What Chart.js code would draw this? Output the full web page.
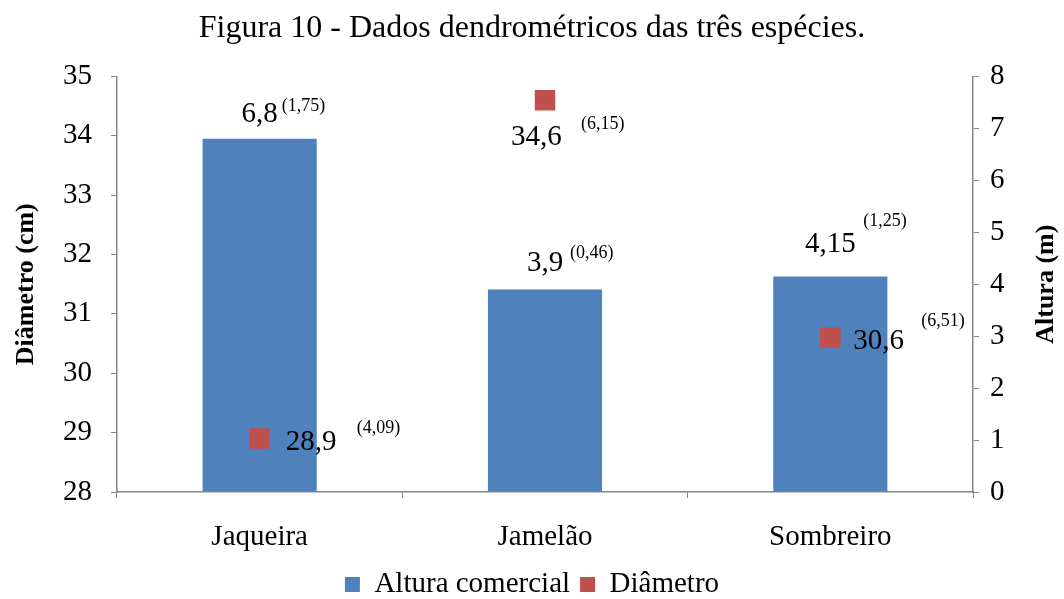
<!DOCTYPE html>
<html>
<head>
<meta charset="utf-8">
<script src="https://cdn.jsdelivr.net/npm/chart.js@4.4.1/dist/chart.umd.min.js"></script>
<style>
  html, body { margin: 0; padding: 0; background: #fff; }
  #wrap { width: 1064px; height: 599px; }
</style>
</head>
<body>
<div id="wrap"><canvas id="chart1"></canvas></div>
<script>
// data
const especies = ["Jaqueira", "Jamelão", "Sombreiro"];
const altura = [6.8, 3.9, 4.15];
const alturaDP = ["1,75", "0,46", "1,25"];
const diametro = [28.9, 34.6, 30.6];
const diametroDP = ["4,09", "6,15", "6,51"];
const ticksDiametro = [28, 29, 30, 31, 32, 33, 34, 35];
const ticksAltura = [0, 1, 2, 3, 4, 5, 6, 7, 8];

const serif = "'Liberation Serif', 'Times New Roman', serif";
const axisGray = "#868686";

// where each value label sits, relative to its bar top / marker centre
const barLabelPos = [
  { dx: 0, dy: -17, sdx: 22, sdy: -28 },
  { dx: 0, dy: -18, sdx: 25, sdy: -31 },
  { dx: 0, dy: -24, sdx: 33, sdy: -50 }
];
const pointLabelPos = [
  { dx: 26, dy: 11, sdx: 97, sdy: -6 },
  { dx: -34, dy: 45, sdx: 36, sdy: 29 },
  { dx: 23, dy: 11, sdx: 91, sdy: -12 }
];

function fmt(v) {
  return String(v).replace(".", ",");
}

// value labels with the standard deviation written small beside them
const valueLabels = {
  id: "valueLabels",
  afterDatasetsDraw(chart) {
    const ctx = chart.ctx;
    ctx.save();
    ctx.fillStyle = "#000";
    ctx.textBaseline = "alphabetic";

    const bars = chart.getDatasetMeta(0).data;
    bars.forEach((el, i) => {
      const p = barLabelPos[i];
      ctx.font = "29px " + serif;
      ctx.textAlign = "center";
      ctx.fillText(fmt(altura[i]), el.x + p.dx, el.y + p.dy);
      ctx.font = "18px " + serif;
      ctx.textAlign = "left";
      ctx.fillText("(" + alturaDP[i] + ")", el.x + p.sdx, el.y + p.sdy);
    });

    const pts = chart.getDatasetMeta(1).data;
    pts.forEach((el, i) => {
      const p = pointLabelPos[i];
      ctx.font = "29px " + serif;
      ctx.textAlign = "left";
      ctx.fillText(fmt(diametro[i]), el.x + p.dx, el.y + p.dy);
      ctx.font = "18px " + serif;
      ctx.fillText("(" + diametroDP[i] + ")", el.x + p.sdx, el.y + p.sdy);
    });

    // right axis title, reading bottom to top like the left one
    const a = chart.chartArea;
    ctx.translate(1046, (a.top + a.bottom) / 2);
    ctx.rotate(-Math.PI / 2);
    ctx.font = "bold 26px " + serif;
    ctx.textAlign = "center";
    ctx.textBaseline = "middle";
    ctx.fillText("Altura (m)", 0, 0);
    ctx.restore();
  }
};

var ctx = document.getElementById("chart1").getContext("2d");

var chartData = {
  labels: especies,
  datasets: [
    {
      type: "bar",
      label: "Altura comercial",
      data: altura,
      yAxisID: "y1",
      backgroundColor: "#4F81BD",
      borderWidth: 0,
      barPercentage: 0.4,
      categoryPercentage: 1,
      order: 1
    },
    {
      type: "line",
      label: "Diâmetro",
      data: diametro,
      yAxisID: "y",
      showLine: false,
      pointStyle: "rect",
      pointRadius: 14.5,
      pointHoverRadius: 14.5,
      pointBorderWidth: 0,
      backgroundColor: "#C0504D",
      borderColor: "#C0504D",
      borderWidth: 0,
      order: 0
    }
  ]
};

var chart1 = new Chart(ctx, {
  type: "bar",
  data: chartData,
  plugins: [valueLabels],
  options: {
    responsive: true,
    maintainAspectRatio: false,
    animation: false,
    layout: { padding: { top: 0, bottom: -10, left: 0, right: 0 } },
    plugins: {
      tooltip: { enabled: false },
      title: {
        display: true,
        text: "Figura 10 - Dados dendrométricos das três espécies.",
        color: "#000",
        font: { family: serif, size: 32, weight: "normal" },
        padding: { top: 9, bottom: 29 }
      },
      legend: {
        display: true,
        position: "bottom",
        labels: {
          color: "#000",
          font: { family: serif, size: 29 },
          boxWidth: 15,
          boxHeight: 15,
          padding: 10,
          sort: (a, b) => a.datasetIndex - b.datasetIndex
        }
      }
    },
    scales: {
      x: {
        afterFit: (s) => { s.height = 68; },
        border: { color: axisGray, width: 1.5 },
        grid: { drawOnChartArea: false, color: axisGray, tickLength: 6, offset: true },
        ticks: { color: "#000", font: { family: serif, size: 29 }, padding: 22 }
      },
      y: {
        position: "left",
        min: 28,
        max: 35,
        afterBuildTicks: (s) => { s.ticks = ticksDiametro.map((v) => ({ value: v })); },
        afterFit: (s) => { s.width = 117; },
        border: { color: axisGray, width: 1.5 },
        grid: { drawOnChartArea: false, color: axisGray, tickLength: 6 },
        ticks: { color: "#000", font: { family: serif, size: 29 }, padding: 19 },
        title: {
          display: true,
          text: "Diâmetro (cm)",
          color: "#000",
          font: { family: serif, size: 26, weight: "bold" },
          padding: { top: 11, bottom: 0 }
        }
      },
      y1: {
        position: "right",
        min: 0,
        max: 8,
        afterBuildTicks: (s) => { s.ticks = ticksAltura.map((v) => ({ value: v })); },
        afterFit: (s) => { s.width = 91; },
        border: { color: axisGray, width: 1.5 },
        grid: { drawOnChartArea: false, color: axisGray, tickLength: 6 },
        ticks: { color: "#000", font: { family: serif, size: 29 }, padding: 11 }
      }
    }
  }
});
</script>
</body>
</html>
